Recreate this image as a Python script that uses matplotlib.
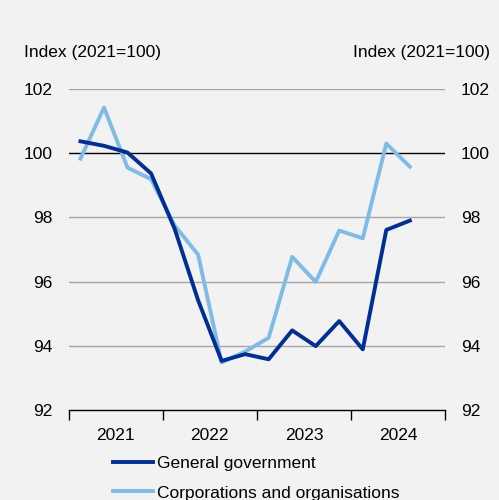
import numpy as np
import matplotlib.pyplot as plt
from matplotlib.ticker import FixedLocator, NullFormatter

plt.rcParams['font.family'] = ['Liberation Sans', 'DejaVu Sans']

# quarterly index, 2021Q1 .. 2024Q3
quarters = np.arange(15)
general_government = [100.37, 100.23, 100.02, 99.37, 97.65, 95.42, 93.53, 93.74, 93.58,
                      94.48, 93.99, 94.77, 93.89, 97.61, 97.90]
corporations = [99.83, 101.42, 99.55, 99.19, 97.75, 96.84, 93.48, 93.82, 94.25,
                96.77, 95.99, 97.59, 97.35, 100.30, 99.58]
years = ['2021', '2022', '2023', '2024']
yticks = [92, 94, 96, 98, 100, 102]

bg = '#f2f2f2'
dark = '#002f94'
light = '#80bbe6'
fs = 12.5

fig = plt.figure(figsize=(4.99, 5.0), dpi=100, facecolor=bg)
ax = fig.add_axes([0.1377, 0.18, 0.7543, 0.642], facecolor=bg)

for y in yticks[1:]:
    ax.axhline(y, color='black' if y == 100 else '#a6a6a6', lw=1.0, zorder=1)

ax.plot(quarters, general_government, color=dark, lw=2.8, label='General government', zorder=3)
ax.plot(quarters, corporations, color=light, lw=2.8, label='Corporations and organisations', zorder=2)

ax.set_xlim(-0.5, 15.5)
ax.set_ylim(92, 102)
ax.set_yticks(yticks)
ax.tick_params(axis='y', length=0, labelleft=True, labelright=True, labelsize=fs, pad=11.5)

# year boundaries as ticks, year names centred in between
ax.xaxis.set_major_locator(FixedLocator([-0.5, 3.5, 7.5, 11.5, 15.5]))
ax.xaxis.set_major_formatter(NullFormatter())
ax.xaxis.set_minor_locator(FixedLocator([1.5, 5.5, 9.5, 13.5]))
ax.set_xticklabels(years, minor=True)
ax.tick_params(axis='x', which='major', direction='out', length=7, width=1, color='black')
ax.tick_params(axis='x', which='minor', length=0, labelsize=fs, pad=13)

for s in ['top', 'left', 'right']:
    ax.spines[s].set_visible(False)
ax.spines['bottom'].set_color('black')
ax.spines['bottom'].set_linewidth(1.0)

fig.text(0.048, 0.896, 'Index (2021=100)', fontsize=fs, ha='left', va='center')
fig.text(0.982, 0.896, 'Index (2021=100)', fontsize=fs, ha='right', va='center')

fig.legend(loc='upper left', bbox_to_anchor=(0.2265, 0.089), frameon=False, fontsize=fs,
           handlelength=2.3, handletextpad=0.25, labelspacing=0.85, borderpad=0,
           borderaxespad=0)

fig.savefig('out.png', dpi=100, facecolor=bg)
